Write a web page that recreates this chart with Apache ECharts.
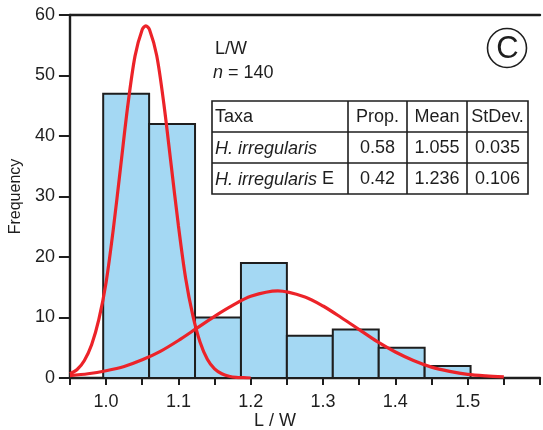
<!DOCTYPE html>
<html>
<head>
<meta charset="utf-8">
<script src="https://cdn.jsdelivr.net/npm/echarts@6/dist/echarts.min.js"></script>
<style>
html,body{margin:0;padding:0;background:#fff;}
#chart{width:543px;height:430px;}
</style>
</head>
<body>
<div id="chart"></div>
<script>
// ---- data ----
var binEdges = [0.996, 1.0595, 1.123, 1.1865, 1.250, 1.3135, 1.377, 1.4405, 1.504];
var binCounts = [47, 42, 10, 19, 7, 8, 5, 2];
var curve1X = [0.95,0.96,0.97,0.98,0.99,1.00,1.01,1.02,1.03,1.04,1.05,1.055,1.06,1.07,1.08,1.09,1.10,1.11,1.12,1.13,1.14,1.15,1.16,1.17,1.18,1.19,1.20];
var curve1Y = [0.7,1.4,2.9,5.5,9.7,15.8,24.6,34.8,45.0,53.2,57.6,58.2,57.6,53.3,45.2,35.2,25.2,16.5,10.3,5.9,3.1,1.5,0.7,0.3,0.1,0.05,0.0];
var curve2X = [0.95,0.975,1.0,1.025,1.05,1.075,1.1,1.125,1.15,1.175,1.2,1.2375,1.275,1.3,1.325,1.35,1.375,1.4,1.425,1.45,1.475,1.5,1.525,1.55];
var curve2Y = [0.4,0.7,1.2,1.9,3.0,4.4,6.2,8.2,10.2,12.0,13.5,14.4,13.4,11.9,10.0,8.0,6.0,4.3,2.9,1.8,1.1,0.6,0.35,0.2];
var xTickValues = [1.0, 1.1, 1.2, 1.3, 1.4, 1.5];
var xTickLabels = ['1.0', '1.1', '1.2', '1.3', '1.4', '1.5'];
var yTickLabels = ['0', '10', '20', '30', '40', '50', '60'];
var xAxisName = 'L / W';
var yAxisName = 'Frequency';
var infoTitle = 'L/W';
var infoN = '140';
var panelLetter = 'C';
var tableHeader = ['Taxa', 'Prop.', 'Mean', 'StDev.'];
var taxaNames = ['H. irregularis', 'H. irregularis'];
var taxaSuffix = ['', ' E'];
var taxaProp = ['0.58', '0.42'];
var taxaMean = ['1.055', '1.236'];
var taxaSd = ['0.035', '0.106'];

// ---- chart ----
var FONT = '"Liberation Sans", Arial, Helvetica, sans-serif';
var INK = '#1e1e1e';
var chart = echarts.init(document.getElementById('chart'), null, {renderer: 'canvas'});

var barData = binCounts.map(function (c, i) { return [binEdges[i], binEdges[i + 1], c]; });
var c1 = curve1X.map(function (x, i) { return [x, curve1Y[i]]; });
var c2 = curve2X.map(function (x, i) { return [x, curve2Y[i]]; });

// table graphic
var tX = [212, 348, 407, 467, 528];
var tY = [101, 132, 163, 194];
var g = [];
var lineStyle = {stroke: INK, lineWidth: 1.6};
g.push({type: 'rect', shape: {x: tX[0], y: tY[0], width: tX[4] - tX[0], height: tY[3] - tY[0]}, style: {fill: '#fff', stroke: INK, lineWidth: 1.6}, z: 100});
[tY[1], tY[2]].forEach(function (y) {
  g.push({type: 'line', shape: {x1: tX[0], y1: y, x2: tX[4], y2: y}, style: lineStyle, z: 101});
});
[tX[1], tX[2], tX[3]].forEach(function (x) {
  g.push({type: 'line', shape: {x1: x, y1: tY[0], x2: x, y2: tY[3]}, style: lineStyle, z: 101});
});
var TFS = 18;
function cellText(txt, col, row, rich) {
  var cy = (tY[row] + tY[row + 1]) / 2 + 1;
  var isLeft = col === 0;
  var x = isLeft ? tX[0] + 3 : (tX[col] + tX[col + 1]) / 2;
  var st = {text: txt, x: x, y: cy, fill: INK, font: TFS + 'px ' + FONT, textAlign: isLeft ? 'left' : 'center', textVerticalAlign: 'middle'};
  if (rich) { st.rich = rich; }
  g.push({type: 'text', style: st, z: 102});
}
tableHeader.forEach(function (h, i) { cellText(h, i, 0); });
var itRich = {i: {fontStyle: 'italic', fontSize: TFS, fontFamily: FONT, fill: INK}, n: {fontSize: TFS, fontFamily: FONT, fill: INK}};
for (var r = 0; r < taxaNames.length; r++) {
  cellText('{i|' + taxaNames[r] + '}{n|' + taxaSuffix[r] + '}', 0, r + 1, itRich);
  cellText(taxaProp[r], 1, r + 1);
  cellText(taxaMean[r], 2, r + 1);
  cellText(taxaSd[r], 3, r + 1);
}
// info text
g.push({type: 'text', style: {text: infoTitle, x: 215, y: 49, fill: INK, font: '18px ' + FONT, textVerticalAlign: 'middle'}, z: 102});
g.push({type: 'text', style: {text: '{i|n}{n| = ' + infoN + '}', x: 213, y: 73, fill: INK, font: '18px ' + FONT, textVerticalAlign: 'middle',
  rich: {i: {fontStyle: 'italic', fontSize: 18, fontFamily: FONT, fill: INK}, n: {fontSize: 18, fontFamily: FONT, fill: INK}}}, z: 102});
// panel letter
g.push({type: 'circle', shape: {cx: 507, cy: 48, r: 19.5}, style: {fill: 'none', stroke: INK, lineWidth: 1.6}, z: 102});
g.push({type: 'text', style: {text: panelLetter, x: 507.5, y: 49, fill: INK, font: '31px ' + FONT, textAlign: 'center', textVerticalAlign: 'middle'}, z: 102});
// x-axis title (placed like the reference, left of the grid centre)
g.push({type: 'text', style: {text: xAxisName, x: 275, y: 421, fill: INK, font: '18px ' + FONT, textAlign: 'center', textVerticalAlign: 'middle'}, z: 102});

var option = {
  animation: false,
  backgroundColor: '#fff',
  grid: {left: 67, top: 15, right: -3, bottom: 52, containLabel: false},
  xAxis: [{
    type: 'value', min: 0.95, max: 1.6, interval: 0.05,
    axisLine: {show: true, onZero: false, lineStyle: {color: INK, width: 2.4}},
    axisTick: {show: true, inside: false, length: 7, lineStyle: {color: INK, width: 2}},
    axisLabel: {
      show: true, fontSize: 18, fontFamily: FONT, color: INK, margin: 15,
      showMinLabel: true, showMaxLabel: true,
      formatter: function (v) {
        for (var i = 0; i < xTickValues.length; i++) {
          if (Math.abs(v - xTickValues[i]) < 1e-6) return xTickLabels[i];
        }
        return '';
      }
    },
    splitLine: {show: false}
  }, {
    type: 'value', position: 'top', min: 0.95, max: 1.6,
    axisLine: {show: true, onZero: false, lineStyle: {color: INK, width: 2.4}},
    axisTick: {show: false}, axisLabel: {show: false}, splitLine: {show: false}
  }],
  yAxis: {
    type: 'value', min: 0, max: 60, interval: 10,
    name: yAxisName, nameLocation: 'middle', nameGap: 42,
    nameTextStyle: {fontSize: 16, fontFamily: FONT, color: INK},
    axisLine: {show: true, lineStyle: {color: INK, width: 2.4}},
    axisTick: {show: true, inside: false, length: 11, lineStyle: {color: INK, width: 2}},
    axisLabel: {fontSize: 18, fontFamily: FONT, color: INK, margin: 15,
      formatter: function (v) { return yTickLabels[Math.round(v / 10)]; }},
    splitLine: {show: false}
  },
  series: [{
    type: 'custom',
    xAxisIndex: 0,
    data: barData,
    encode: {x: [0, 1], y: 2},
    z: 2,
    renderItem: function (params, api) {
      var p0 = api.coord([api.value(0), 0]);
      var p1 = api.coord([api.value(1), api.value(2)]);
      return {
        type: 'rect',
        shape: {x: p0[0], y: p1[1], width: p1[0] - p0[0], height: p0[1] - p1[1]},
        style: {fill: '#a4d8f3', stroke: INK, lineWidth: 2}
      };
    }
  }, {
    type: 'line', xAxisIndex: 0, data: c1, smooth: 0.3, showSymbol: false, symbol: 'none', z: 5,
    lineStyle: {color: '#ec2329', width: 3.2}
  }, {
    type: 'line', xAxisIndex: 0, data: c2, smooth: 0.3, showSymbol: false, symbol: 'none', z: 5,
    lineStyle: {color: '#ec2329', width: 3.2}
  }],
  graphic: g
};
chart.setOption(option);
</script>
</body>
</html>
